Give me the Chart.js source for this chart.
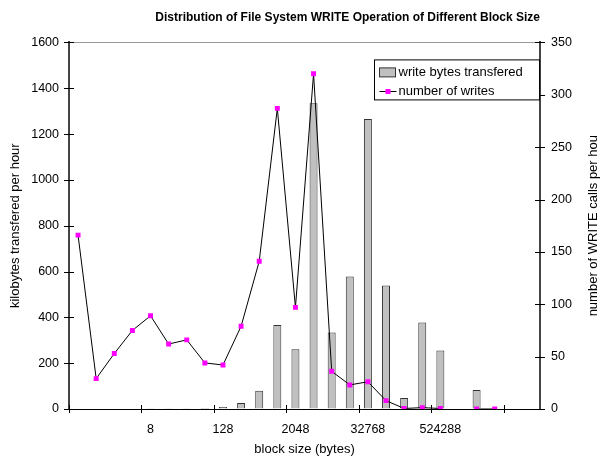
<!DOCTYPE html>
<html>
<head>
<meta charset="utf-8">
<title>File System WRITE Operations by Block Size</title>
<script src="https://cdn.jsdelivr.net/npm/chart.js@4/dist/chart.umd.min.js"></script>
<style>
  html, body { margin: 0; padding: 0; background: #fff; }
  #wrap { width: 600px; height: 458px; }
</style>
</head>
<body>
<div id="wrap"><canvas id="writeChart" width="600" height="458"></canvas></div>
<script>
// block sizes in bytes, one category per power of two
const blockSizes = ['0', '1', '2', '4', '8', '16', '32', '64', '128', '256', '512', '1024',
    '2048', '4096', '8192', '16384', '32768', '65536', '131072', '262144', '524288',
    '1048576', '2097152', '4194304', '8388608', '16777216'];
// only these sizes get a label under the axis
const labeledSizes = ['8', '128', '2048', '32768', '524288'];

// kilobytes written per hour (left axis)
const kbPerHour = [0, 0, 0, 2, 3, 3, 3, 4, 9, 26, 80, 367, 261, 1334, 334, 578, 1266, 539,
    48, 377, 255, 0, 83, 0, 0, 0];
// WRITE calls per hour (right axis)
const callsPerHour = [166, 29, 53, 75, 89, 62, 66, 44, 42, 79, 141, 287, 97, 320, 36, 23, 26,
    8, 0.5, 1.3, 0.5, null, 0, 0, null, null];

const FONT = 'Liberation Sans, Arial, sans-serif';
Chart.defaults.font.family = FONT;
Chart.defaults.color = '#000';

// Excel style tick marks that cross the axis lines, plus the right axis title
const crossTicks = {
    id: 'crossTicks',
    afterDraw(chart) {
        const { ctx, scales: { x, y, y1 } } = chart;
        ctx.save();
        ctx.strokeStyle = '#000';
        ctx.lineWidth = 1;
        ctx.beginPath();
        const half = (x.getPixelForValue(1) - x.getPixelForValue(0)) / 2;
        for (let i = 0; i < blockSizes.length; i += 4) {
            const px = Math.round(x.getPixelForValue(i) - half) + 0.5;
            ctx.moveTo(px, x.top - 4);
            ctx.lineTo(px, x.top + 4);
        }
        y.ticks.forEach((t, i) => {
            const py = Math.round(y.getPixelForTick(i)) + 0.5;
            ctx.moveTo(y.right - 5, py);
            ctx.lineTo(y.right + 5, py);
        });
        y1.ticks.forEach((t, i) => {
            const py = Math.round(y1.getPixelForTick(i)) + 0.5;
            ctx.moveTo(y1.left - 5, py);
            ctx.lineTo(y1.left + 5, py);
        });
        ctx.stroke();

        // right title reads bottom to top like the left one
        const ca = chart.chartArea;
        ctx.translate(593, (ca.top + ca.bottom) / 2);
        ctx.rotate(-Math.PI / 2);
        ctx.font = '13px ' + FONT;
        ctx.fillStyle = '#000';
        ctx.textAlign = 'center';
        ctx.textBaseline = 'middle';
        ctx.fillText('number of WRITE calls per hou', 0, 0);
        ctx.restore();
    }
};

// boxed legend sitting in the top right corner of the plot
const boxLegend = {
    id: 'boxLegend',
    afterDraw(chart) {
        const { ctx, chartArea } = chart;
        const bars = chart.data.datasets[0];
        const line = chart.data.datasets[1];
        const bx = chartArea.right - 165.5;
        const by = chartArea.top + 17.5;
        ctx.save();
        ctx.fillStyle = '#fff';
        ctx.fillRect(bx, by, 165, 40);
        ctx.strokeStyle = '#000';
        ctx.lineWidth = 1;
        ctx.strokeRect(bx, by, 165, 40);

        // bar swatch
        ctx.fillStyle = bars.backgroundColor;
        ctx.fillRect(bx + 5, by + 8, 16, 9);
        ctx.strokeStyle = bars.borderColor;
        ctx.strokeRect(bx + 5, by + 8, 16, 9);

        // line swatch
        const ly = Math.round(by + 31) + 0.5;
        ctx.strokeStyle = line.borderColor;
        ctx.beginPath();
        ctx.moveTo(bx + 5, ly);
        ctx.lineTo(bx + 22, ly);
        ctx.stroke();
        ctx.fillStyle = line.pointBackgroundColor;
        ctx.fillRect(bx + 11, ly - 2.5, 5, 5);

        ctx.fillStyle = '#000';
        ctx.font = '13px ' + FONT;
        ctx.textBaseline = 'middle';
        ctx.fillText(bars.label, bx + 24, by + 12.5);
        ctx.fillText(line.label, bx + 24, by + 31.5);
        ctx.restore();
    }
};

new Chart(document.getElementById('writeChart'), {
    data: {
        labels: blockSizes,
        datasets: [{
            type: 'bar',
            label: 'write bytes transfered',
            data: kbPerHour,
            yAxisID: 'y',
            backgroundColor: '#C0C0C0',
            borderColor: '#333333',
            borderWidth: 1,
            barPercentage: 0.44,
            categoryPercentage: 1,
            order: 1
        }, {
            type: 'line',
            label: 'number of writes',
            data: callsPerHour,
            yAxisID: 'y1',
            borderColor: '#000000',
            borderWidth: 1,
            tension: 0,
            pointStyle: 'rect',
            pointRadius: 3.5,
            pointBorderWidth: 0,
            pointBackgroundColor: '#FF00FF',
            pointBorderColor: '#FF00FF',
            spanGaps: false,
            order: 0
        }]
    },
    options: {
        responsive: false,
        animation: false,
        layout: { padding: 0 },
        plugins: {
            legend: { display: false },
            tooltip: { enabled: false },
            title: {
                display: true,
                text: 'Distribution of File System WRITE Operation of Different Block Size',
                align: 'end',
                fullSize: false,
                color: '#000',
                font: { size: 12, weight: 'bold' },
                padding: { top: 10, bottom: 18 }
            }
        },
        scales: {
            x: {
                type: 'category',
                offset: true,
                grid: { display: false, drawTicks: false },
                border: { color: '#000', width: 1 },
                ticks: {
                    autoSkip: false,
                    maxRotation: 0,
                    padding: 13,
                    font: { size: 12.5 },
                    callback(value, i) {
                        const s = blockSizes[i];
                        return labeledSizes.includes(s) ? s : '';
                    }
                },
                title: {
                    display: true,
                    text: 'block size (bytes)',
                    font: { size: 13 },
                    padding: { top: 0, bottom: 1 }
                },
                afterFit(s) { s.height = 49; }
            },
            y: {
                position: 'left',
                min: 0,
                max: 1600,
                ticks: { stepSize: 200, padding: 10, font: { size: 12.5 }, callback: v => String(v) },
                grid: {
                    drawTicks: false,
                    color: ctx => ctx.tick && ctx.tick.value === 1600 ? '#999999' : 'rgba(0,0,0,0)'
                },
                border: { color: '#444444', width: 2 },
                title: {
                    display: true,
                    text: 'kilobytes transfered per hour',
                    font: { size: 13 },
                    padding: { top: 8, bottom: 0 }
                },
                afterFit(s) { s.width = 69; }
            },
            y1: {
                position: 'right',
                min: 0,
                max: 350,
                ticks: { stepSize: 50, padding: 11, font: { size: 12.5 }, callback: v => String(v) },
                grid: { display: false, drawTicks: false },
                border: { color: '#444444', width: 2 },
                afterFit(s) { s.width = 60; }
            }
        }
    },
    plugins: [crossTicks, boxLegend]
});
</script>
</body>
</html>
